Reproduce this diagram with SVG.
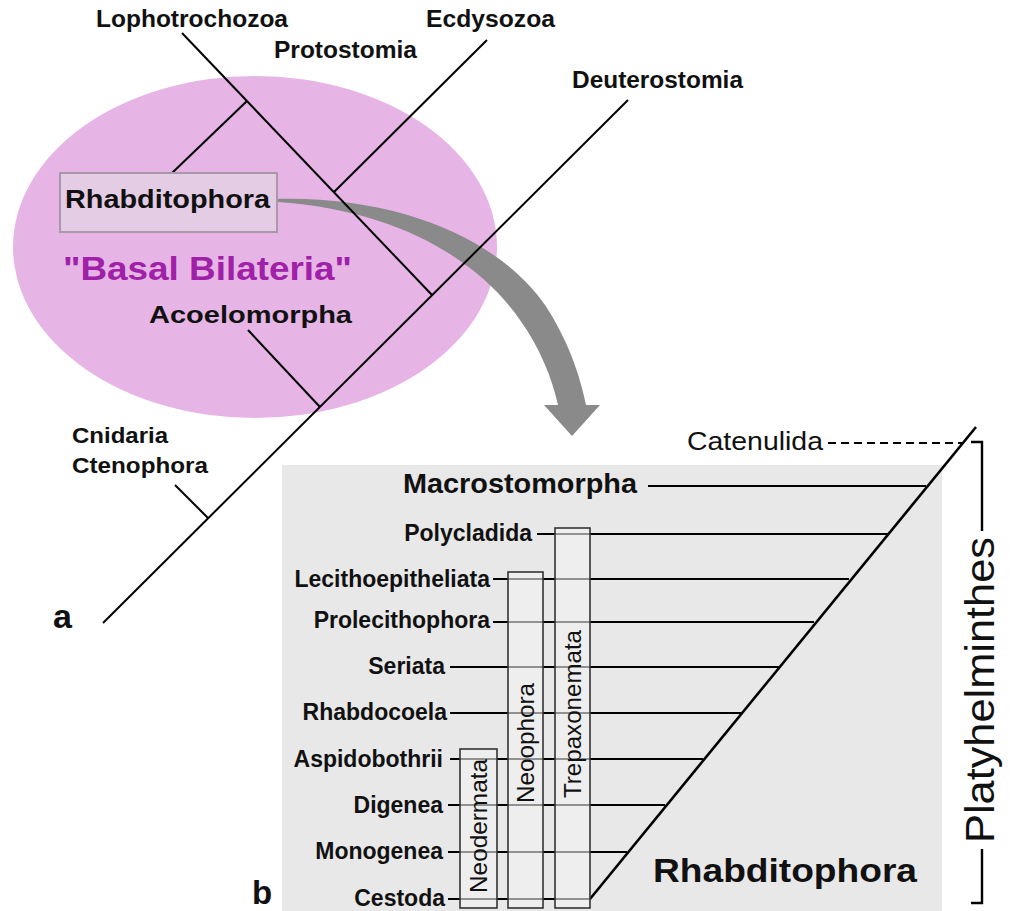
<svg xmlns="http://www.w3.org/2000/svg" width="1010" height="911" viewBox="0 0 1010 911">
<style>
.t{font-family:"Liberation Sans",Arial,sans-serif;font-weight:bold;fill:#111}
.r{font-family:"Liberation Sans",Arial,sans-serif;font-weight:normal;fill:#111}
.ln{stroke:#000;stroke-width:2;fill:none}
.hl{stroke:#000;stroke-width:2;fill:none}
.bx{fill:#f2f2f2;fill-opacity:0.6;stroke:#333;stroke-width:1.6}
</style>
<rect width="1010" height="911" fill="#fff"/>
<g id="ellipse"><ellipse cx="255" cy="247" rx="242" ry="171" fill="#e6b5e6"/></g>
<g id="arrow">
<path d="M277,199 C400,196 500,240 545,305 C568,340 580,375 586,405 L600,405 L572,436 L544,405 L558,405 C552,378 540,348 520,320 C480,262 400,210 277,202 Z" fill="#8a8a8a"/>
</g>
<g id="tree-a">
<path class="ln" d="M103,623 L628,100"/>
<path class="ln" d="M175,485 L208,518"/>
<path class="ln" d="M248,330 L320,407"/>
<path class="ln" d="M182,33 L432,295"/>
<path class="ln" d="M487,40 L334,192"/>
<path class="ln" d="M247,101 L172,173"/>
</g>
<g id="node-rhabditophora-a">
<rect x="60" y="173" width="217" height="59" fill="#e5cce5" stroke="#a898a8" stroke-width="2"/>
<text class="t" x="65" y="208" font-size="25" textLength="205" lengthAdjust="spacingAndGlyphs">Rhabditophora</text>
</g>
<g id="labels-a">
<text class="t" x="96" y="27" font-size="23" textLength="192" lengthAdjust="spacingAndGlyphs">Lophotrochozoa</text>
<text class="t" x="426" y="27" font-size="23" textLength="129" lengthAdjust="spacingAndGlyphs">Ecdysozoa</text>
<text class="t" x="274" y="58" font-size="23" textLength="143" lengthAdjust="spacingAndGlyphs">Protostomia</text>
<text class="t" x="572" y="88" font-size="23" textLength="171" lengthAdjust="spacingAndGlyphs">Deuterostomia</text>
<text class="t" x="63" y="280" font-size="33" style="fill:#a020a8" textLength="289" lengthAdjust="spacingAndGlyphs">"Basal Bilateria"</text>
<text class="t" x="149" y="323" font-size="24" textLength="203" lengthAdjust="spacingAndGlyphs">Acoelomorpha</text>
<text class="t" x="72" y="443" font-size="22" textLength="96" lengthAdjust="spacingAndGlyphs">Cnidaria</text>
<text class="t" x="72" y="473" font-size="22" textLength="136" lengthAdjust="spacingAndGlyphs">Ctenophora</text>
<text class="t" x="53" y="628" font-size="34">a</text>
</g>
<g id="panel-b">
<rect x="282" y="465" width="660" height="446" fill="#e8e8e8"/>
</g>
<g id="connectors-b">
<path class="hl" d="M648,486 L926,486"/>
<path class="hl" d="M537,534 L888,534"/>
<path class="hl" d="M493,579 L849,579"/>
<path class="hl" d="M493,622 L814,622"/>
<path class="hl" d="M450,667 L779,667"/>
<path class="hl" d="M450,713 L741,713"/>
<path class="hl" d="M450,759 L703,759"/>
<path class="hl" d="M448,805 L665,805"/>
<path class="hl" d="M448,852 L627,852"/>
<path class="hl" d="M448,899 L590,899"/>
<path stroke="#000" stroke-width="2.6" fill="none" d="M590,899 L976,427"/>
<path stroke="#000" stroke-width="2" fill="none" stroke-dasharray="8 5" d="M828,443 L962,443"/>
<path stroke="#000" stroke-width="2.4" fill="none" d="M971,442 L982,442 L982,531 M982,849 L982,903 L971,903"/>
</g>
<g id="groups-b">
<g id="node-neodermata"><rect class="bx" x="460" y="749" width="37" height="159"/>
<text class="r" transform="translate(487,826) rotate(-90)" text-anchor="middle" font-size="24" textLength="134" lengthAdjust="spacingAndGlyphs">Neodermata</text></g>
<g id="node-neoophora"><rect class="bx" x="508" y="572" width="35" height="336"/>
<text class="r" transform="translate(534,743) rotate(-90)" text-anchor="middle" font-size="24" textLength="120" lengthAdjust="spacingAndGlyphs">Neoophora</text></g>
<g id="node-trepaxonemata"><rect class="bx" x="555" y="528" width="35" height="380"/>
<text class="r" transform="translate(581,714) rotate(-90)" text-anchor="middle" font-size="24" textLength="168" lengthAdjust="spacingAndGlyphs">Trepaxonemata</text></g>
</g>
<g id="labels-b">
<text class="t" x="403" y="493" font-size="27" textLength="234" lengthAdjust="spacingAndGlyphs">Macrostomorpha</text>
<text class="t" x="532" y="541" font-size="23" text-anchor="end">Polycladida</text>
<text class="t" x="490" y="587" font-size="23" text-anchor="end">Lecithoepitheliata</text>
<text class="t" x="490" y="628" font-size="23" text-anchor="end">Prolecithophora</text>
<text class="t" x="445" y="674" font-size="23" text-anchor="end">Seriata</text>
<text class="t" x="447" y="720" font-size="23" text-anchor="end">Rhabdocoela</text>
<text class="t" x="443" y="767" font-size="23" text-anchor="end">Aspidobothrii</text>
<text class="t" x="443" y="813" font-size="23" text-anchor="end">Digenea</text>
<text class="t" x="443" y="859" font-size="23" text-anchor="end">Monogenea</text>
<text class="t" x="445" y="906" font-size="23" text-anchor="end">Cestoda</text>
<text class="r" x="687" y="450" font-size="25" textLength="136" lengthAdjust="spacingAndGlyphs">Catenulida</text>
<text class="t" x="653" y="882" font-size="34" textLength="264" lengthAdjust="spacingAndGlyphs">Rhabditophora</text>
<text class="r" transform="translate(994,690) rotate(-90)" text-anchor="middle" font-size="40" textLength="306" lengthAdjust="spacingAndGlyphs">Platyhelminthes</text>
<text class="t" x="252" y="904" font-size="33">b</text>
</g>
</svg>
